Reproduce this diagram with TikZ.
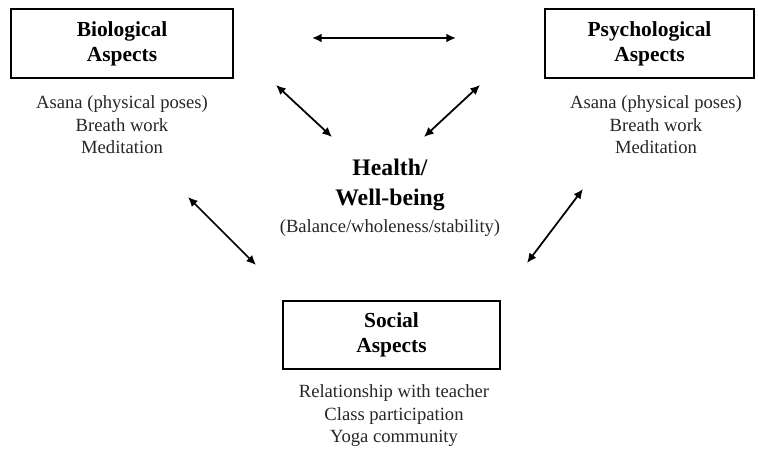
\documentclass[tikz,border=0pt]{standalone}
\usepackage{fontspec}
\setmainfont{Liberation Serif}
\usetikzlibrary{arrows.meta}

\tikzset{
  aspectbox/.style={draw, line width=1.1pt, align=center, inner sep=0pt,
    font=\fontsize{12.2}{14.4}\selectfont\bfseries},
  itemlist/.style={align=center, text=black!85,
    font=\fontsize{10.6}{12.8}\selectfont},
  link/.style={<->, line width=1pt, >={Latex[length=5.5pt,width=5pt]}}
}

\begin{document}
\begin{tikzpicture}[x=0.02cm, y=-0.02cm]

  \useasboundingbox (0,0) rectangle (758,456);

  % the three aspect boxes
  \node[aspectbox, minimum width=4.44cm, minimum height=1.38cm] (bio) at (122,43.5) {Biological\\Aspects};
  \node[aspectbox, minimum width=4.18cm, minimum height=1.38cm] (psy) at (649.5,43.5) {Psychological\\Aspects};
  \node[aspectbox, minimum width=4.34cm, minimum height=1.36cm] (soc) at (391.5,335) {Social\\Aspects};

  % what goes with each box
  \node[itemlist] (biolist) at (122,125) {Asana (physical poses)\\Breath work\\Meditation};
  \node[itemlist] (psylist) at (656,125) {Asana (physical poses)\\Breath work\\Meditation};
  \node[itemlist] (soclist) at (394,416) {Relationship with teacher\\Class participation\\Yoga community};

  % centre
  \node[align=center, font=\fontsize{13.5}{17}\selectfont\bfseries] (health) at (390,185) {Health/\\Well-being};
  \node[itemlist] (balance) at (390,228) {(Balance/wholeness/stability)};

  % arrow ends
  \coordinate (top1) at (312,38);
  \coordinate (top2) at (456,38);
  \coordinate (bh1) at (276,85);
  \coordinate (bh2) at (332,137);
  \coordinate (ph1) at (480,85);
  \coordinate (ph2) at (424,137);
  \coordinate (bs1) at (188,197);
  \coordinate (bs2) at (256,265);
  \coordinate (ps1) at (583,189);
  \coordinate (ps2) at (527,263);

  % arrows
  \draw[link] (top1) -- (top2);
  \draw[link] (bh1) -- (bh2);
  \draw[link] (ph1) -- (ph2);
  \draw[link] (bs1) -- (bs2);
  \draw[link] (ps1) -- (ps2);

\end{tikzpicture}
\end{document}
